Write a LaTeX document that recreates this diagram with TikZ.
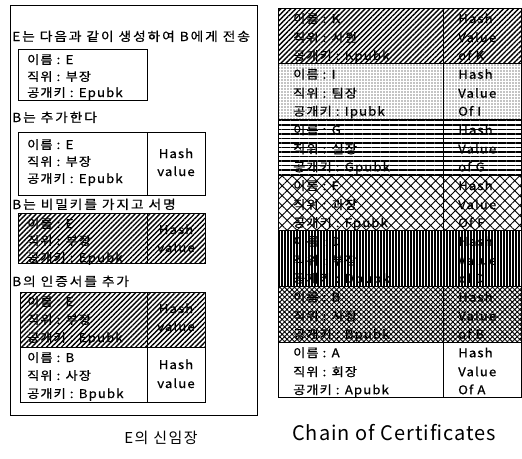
\documentclass[tikz,border=0pt]{standalone}
\usepackage{fontspec}
\setmainfont{Noto Sans CJK KR}
\newfontfamily\boxfont{Noto Sans CJK KR}[FakeStretch=1.1,LetterSpace=9,FakeBold=0.8]
\newfontfamily\headfont{Noto Sans CJK KR}[FakeStretch=1.1,LetterSpace=15,FakeBold=0.6]
\newfontfamily\capfont{Noto Sans CJK KR}[LetterSpace=5]
\newfontfamily\kcapfont{Noto Sans CJK KR}[LetterSpace=10]
\usetikzlibrary{patterns,patterns.meta}
\begin{document}
\begin{tikzpicture}[x=1pt,y=-1pt,
  box/.style={draw=black,line width=1pt},
  txt/.style={anchor=base west,inner sep=0pt,font=\boxfont\fontsize{12}{12}\selectfont},
  head/.style={anchor=base west,inner sep=0pt,font=\headfont\fontsize{12.5}{12}\selectfont},
  captxt/.style={anchor=base,inner sep=0pt},
  diag/.style={pattern={Lines[angle=45,distance=3.5pt,line width=1.4pt]}},
]
\useasboundingbox (0,0) rectangle (522,458);
% left panel
\draw[line width=1pt] (10,5) rectangle (257,415);
\node[head] (h1) at (12,41) {E는 다음과 같이 생성하여 B에게 전송};
\node[head] (h2) at (12,122) {B는 추가한다};
\node[head] (h3) at (12,209) {B는 비밀키를 가지고 서명};
\node[head] (h4) at (12,286) {B의 인증서를 추가};
% box1
\draw[box] (18,49) rectangle (147,100);
\node[txt] (b1a) at (27,64) {이름 : E};
\node[txt] (b1b) at (27,81) {직위 : 부장};
\node[txt] (b1c) at (27,97) {공개키 : Epubk};
% box2
\draw[box] (18,132) rectangle (147,195);
\draw[box] (147,132) rectangle (205,195);
\node[txt] (b2a) at (27,149) {이름 : E};
\node[txt] (b2b) at (27,166) {직위 : 부장};
\node[txt] (b2c) at (27,183) {공개키 : Epubk};
\node[txt,anchor=base] (b2h) at (176,158) {Hash};
\node[txt,anchor=base] (b2v) at (176,176) {value};
% box3
\node[txt] (b3a) at (27,228) {이름 : E};
\node[txt] (b3b) at (27,245) {직위 : 부장};
\node[txt] (b3c) at (27,262) {공개키 : Epubk};
\node[txt,anchor=base] (b3h) at (176,234) {Hash};
\node[txt,anchor=base] (b3v) at (176,252) {value};
\fill[diag] (18,213) rectangle (205,263);
\draw[box] (18,213) rectangle (147,263);
\draw[box] (147,213) rectangle (205,263);
% box4
\node[txt] (b4a) at (27,306) {이름 : E};
\node[txt] (b4b) at (27,324) {직위 : 부장};
\node[txt] (b4c) at (27,342) {공개키 : Epubk};
\node[txt,anchor=base] (b4h) at (176,313) {Hash};
\node[txt,anchor=base] (b4v) at (176,331) {value};
\fill[diag] (20,292) rectangle (205,347);
\node[txt] (b4d) at (27,362) {이름 : B};
\node[txt] (b4e) at (27,380) {직위 : 사장};
\node[txt] (b4f) at (27,398) {공개키 : Bpubk};
\node[txt,anchor=base] (b4i) at (176,369) {Hash};
\node[txt,anchor=base] (b4j) at (176,388) {value};
\draw[box] (20,292) rectangle (205,402);
\draw[box] (20,347) -- (205,347);
\draw[box] (147,292) -- (147,402);
\node[captxt,font=\kcapfont\fontsize{15}{15}\selectfont] (c1) at (161,443) {E의 신임장};
% right chain
\newcommand\certrow[6]{%
  \fill[#2] (278,#1) rectangle (521,#1+55.7);
  \node[txt] (n#3) at (293,#1+15) {이름 : #3};
  \node[txt] (t#3) at (293,#1+34) {직위 : #4};
  \node[txt] (k#3) at (293,#1+52) {공개키 : #5};
  \node[txt] (h#3) at (458,#1+15) {Hash};
  \node[txt] (v#3) at (458,#1+34) {Value};
  \node[txt] (o#3) at (458,#1+52) {#6 #3};
  \draw[box] (278,#1) rectangle (521,#1+55.7);
}
\certrow{8}{diag}{K}{사원}{Kpubk}{of}
\certrow{63.7}{pattern={Dots[distance=3pt,radius=0.55pt]}}{I}{팀장}{Ipubk}{Of}
\certrow{119.4}{pattern={Lines[angle=0,distance=4.5pt,line width=1.3pt]}}{G}{실장}{Gpubk}{of}
\certrow{175.1}{pattern={Hatch[angle=45,distance=7pt,line width=0.9pt]}}{F}{과장}{Fpubk}{Of}
\certrow{230.8}{pattern={Lines[angle=90,distance=3pt,line width=1.2pt]}}{D}{부장}{Dpubk}{of}
\certrow{286.5}{pattern={Hatch[angle=45,distance=3.5pt,line width=0.9pt]}}{B}{사장}{Bpubk}{of}
\certrow{342.2}{fill=white}{A}{회장}{Apubk}{Of}
\draw[box] (443,8) -- (443,398);
\node[captxt,font=\capfont\fontsize{20}{20}\selectfont] (c2) at (394,440) {Chain of Certificates};
\end{tikzpicture}
\end{document}
